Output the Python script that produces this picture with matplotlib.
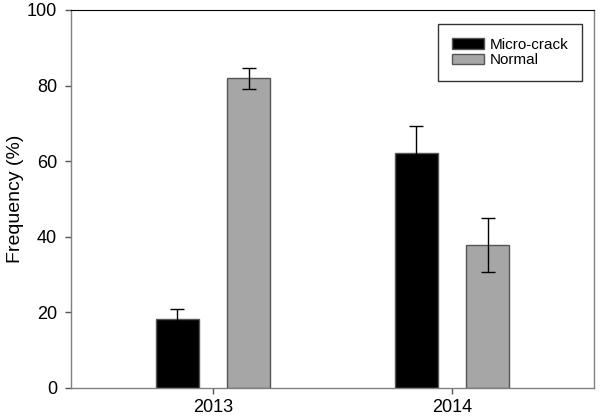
import numpy as np
import matplotlib.pyplot as plt

plt.rcParams['font.family'] = ['Liberation Sans', 'DejaVu Sans']

years = ["2013", "2014"]
micro_crack = [18.3, 62.3]
micro_crack_err = [2.6, 7.0]
normal = [81.9, 37.9]
normal_err = [2.7, 7.1]

x = np.arange(len(years))
width = 0.18
offset = 0.149

fig = plt.figure(figsize=(6.0, 4.17), dpi=100)
ax = fig.add_axes([71 / 600, 1 - 388 / 417, (594 - 71) / 600, (388 - 10) / 417])

err_kw = dict(ecolor="black", elinewidth=1.0, capsize=5, capthick=1.0)
ax.bar(x - offset, micro_crack, width, yerr=micro_crack_err, color="black",
       edgecolor="#555555", linewidth=1.0, label="Micro-crack", error_kw=err_kw)
ax.bar(x + offset, normal, width, yerr=normal_err, color="#a6a6a6",
       edgecolor="#555555", linewidth=1.0, label="Normal", error_kw=err_kw)

ax.set_xlim(-0.594, 1.594)
ax.set_ylim(0, 100)
ax.set_xticks(x)
ax.set_xticklabels(years)
ax.set_yticks(np.arange(0, 101, 20))
ax.tick_params(direction="out", length=4, width=1, colors="#555555",
               labelcolor="black", labelsize=13)
ax.tick_params(axis="y", pad=6)
ax.tick_params(axis="x", pad=4)
ax.set_ylabel("Frequency (%)", fontsize=14, labelpad=2)

for side in ["left", "bottom", "right"]:
    ax.spines[side].set_color("#808080")
    ax.spines[side].set_linewidth(1.0)
ax.spines["top"].set_color("black")

leg = ax.legend(loc="upper right", bbox_to_anchor=(0.978, 0.963), fontsize=11,
                frameon=True, fancybox=False, edgecolor="black",
                handlelength=2.1, handletextpad=0.4, borderpad=0.9,
                labelspacing=0.1, borderaxespad=0)
leg.get_frame().set_linewidth(1.0)

plt.savefig("out.png", dpi=100)
plt.close()
